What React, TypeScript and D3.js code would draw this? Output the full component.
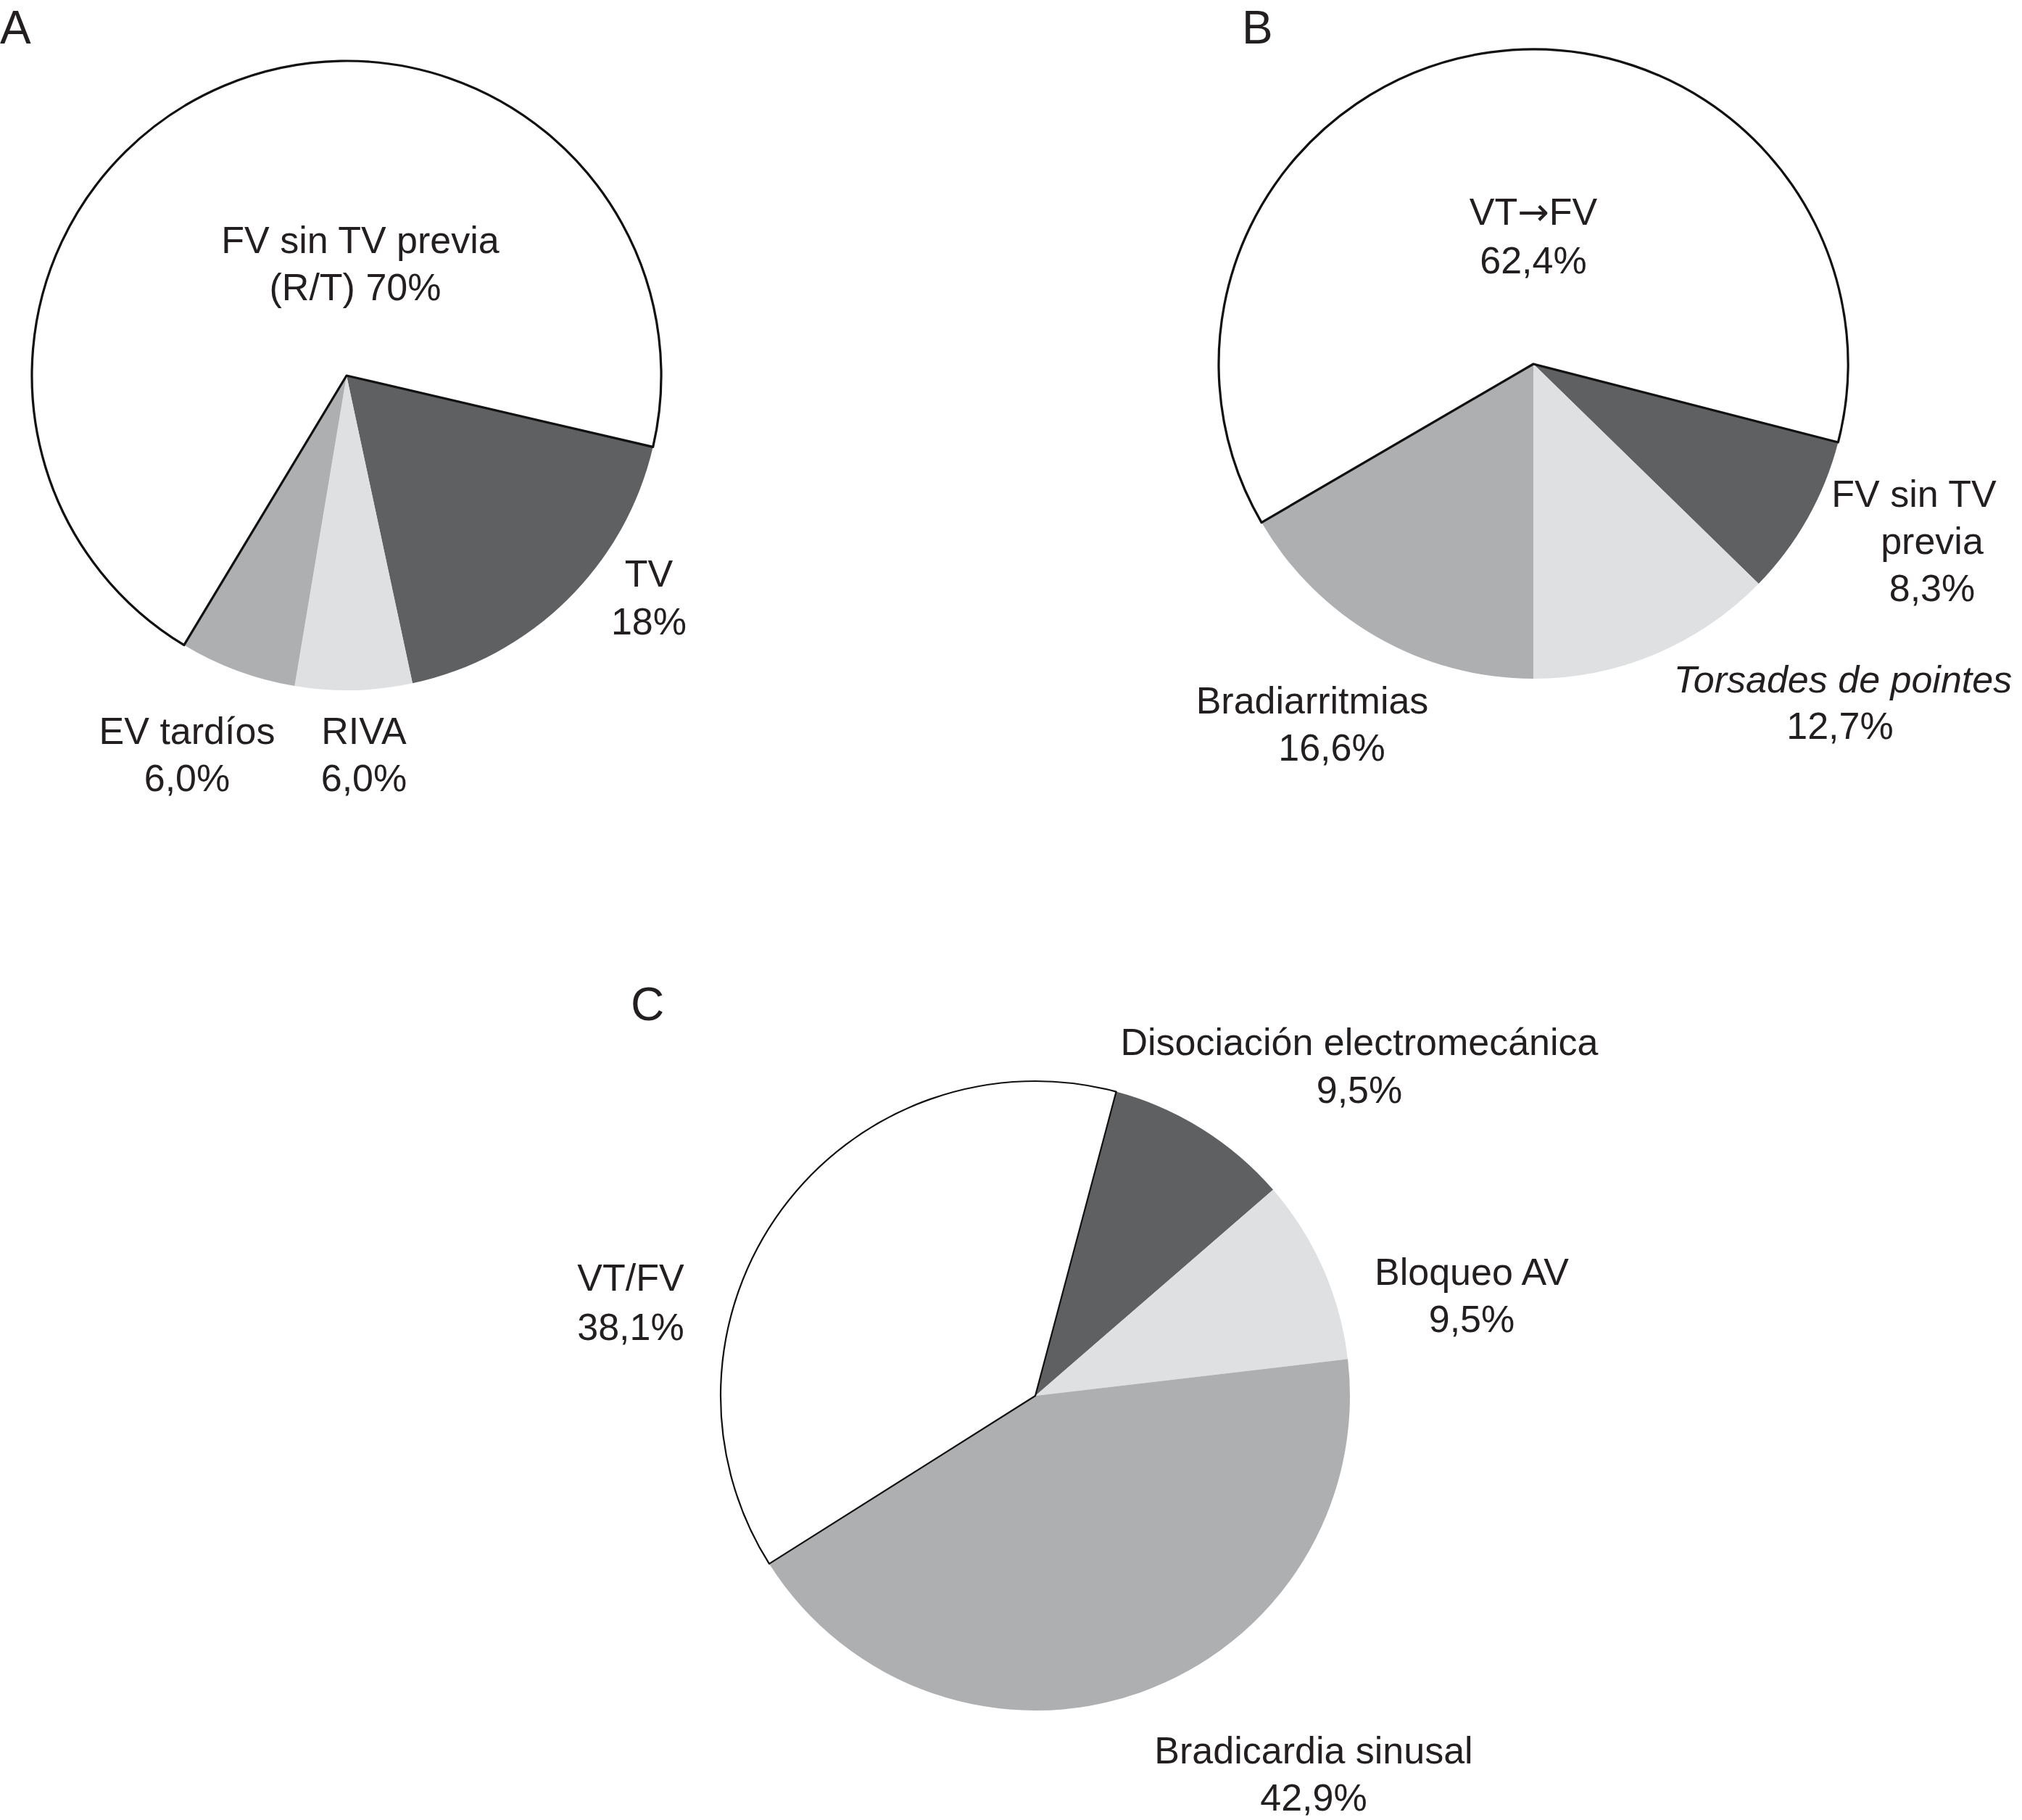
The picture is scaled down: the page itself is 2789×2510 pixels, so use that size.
import React from "react";
import * as d3 from "d3";

// values per panel, clockwise from each pie's start angle
const namesA = ["TV", "RIVA", "EV tardíos", "FV sin TV previa (R/T)"];
const valuesA = [18, 6, 6, 70];
const textA = [["TV", "18%"], ["RIVA", "6,0%"], ["EV tardíos", "6,0%"], ["FV sin TV previa", "(R/T) 70%"]];

const namesB = ["FV sin TV previa", "Torsades de pointes", "Bradiarritmias", "VT→FV"];
const valuesB = [8.3, 12.7, 16.6, 62.4];
const textB = [["FV sin TV", "previa", "8,3%"], ["Torsades de pointes", "12,7%"], ["Bradiarritmias", "16,6%"], ["VT→FV", "62,4%"]];

const namesC = ["Disociación electromecánica", "Bloqueo AV", "Bradicardia sinusal", "VT/FV"];
const valuesC = [9.5, 9.5, 42.9, 38.1];
const textC = [["Disociación electromecánica", "9,5%"], ["Bloqueo AV", "9,5%"], ["Bradicardia sinusal", "42,9%"], ["VT/FV", "38,1%"]];

const fills = ["#5f6062", "#dfe0e2", "#aeafb1", "#ffffff"];
const FONT = "'Liberation Sans', Arial, Helvetica, sans-serif";

// layout: [x, baseline] for each label line
const panels = [
  {
    letter: "A", letterPos: [0, 60], cx: 478, cy: 518, r: 434, start: 103.1, sw: 3.2,
    names: namesA, values: valuesA, text: textA,
    pos: [
      [[895, 809], [895, 875]],
      [[502, 1026], [502, 1091]],
      [[258, 1026], [258, 1091]],
      [[497, 349], [490, 414]],
    ],
  },
  {
    letter: "B", letterPos: [1713, 60], cx: 2115, cy: 502, r: 434, start: 104.4, sw: 3.2,
    names: namesB, values: valuesB, text: textB,
    pos: [
      [[2640, 699], [2665, 764], [2665, 829]],
      [[2542, 955], [2538, 1019]],
      [[1810, 984], [1837, 1049]],
      [[2115, 310], [2115, 377]],
    ],
  },
  {
    letter: "C", letterPos: [870, 1407], cx: 1428, cy: 1925, r: 434, start: 14.9, sw: 2.2,
    names: namesC, values: valuesC, text: textC,
    pos: [
      [[1875, 1455], [1875, 1521]],
      [[2030, 1772], [2030, 1837]],
      [[1812, 2432], [1812, 2497]],
      [[870, 1780], [870, 1848]],
    ],
  },
];

function Label({ t }: { t: string }) {
  // the arrow glyph is tiny in Liberation Sans, so take it from DejaVu
  if (!t.includes("→")) return <>{t}</>;
  const [a, b] = t.split("→");
  return (
    <>
      {a}
      <tspan fontFamily="'DejaVu Sans', sans-serif">→</tspan>
      {b}
    </>
  );
}

function Pie({ p }: { p: (typeof panels)[number] }) {
  const a0 = (p.start * Math.PI) / 180;
  const arcs = d3
    .pie<number>()
    .sort(null)
    .value((d) => d)
    .startAngle(a0)
    .endAngle(a0 + 2 * Math.PI)(p.values);
  const arc = d3.arc<d3.PieArcDatum<number>>().innerRadius(0).outerRadius(p.r);

  return (
    <g>
      <text x={p.letterPos[0]} y={p.letterPos[1]} fontSize={64} fontFamily={FONT} fill="#231f20">
        {p.letter}
      </text>
      <g transform={`translate(${p.cx},${p.cy})`}>
        {arcs.map((a, i) => (
          <path
            key={p.names[i]}
            d={arc(a) ?? ""}
            fill={fills[i]}
            stroke={i === 3 ? "#111" : "none"}
            strokeWidth={p.sw}
            strokeLinejoin="round"
          />
        ))}
      </g>
      {p.text.map((lines, i) =>
        lines.map((t, j) => (
          <text
            key={`${i}-${j}`}
            x={p.pos[i][j][0]}
            y={p.pos[i][j][1]}
            textAnchor="middle"
            fontSize={52}
            fontFamily={FONT}
            fontStyle={t === "Torsades de pointes" ? "italic" : "normal"}
            fill="#231f20"
          >
            <Label t={t} />
          </text>
        ))
      )}
    </g>
  );
}

export default function App() {
  return (
    <svg
      width={2789}
      height={2510}
      style={{ position: "absolute", left: 0, top: 0, background: "#fff" }}
    >
      <rect width={2789} height={2510} fill="#fff" />
      {panels.map((p) => (
        <Pie key={p.letter} p={p} />
      ))}
    </svg>
  );
}
